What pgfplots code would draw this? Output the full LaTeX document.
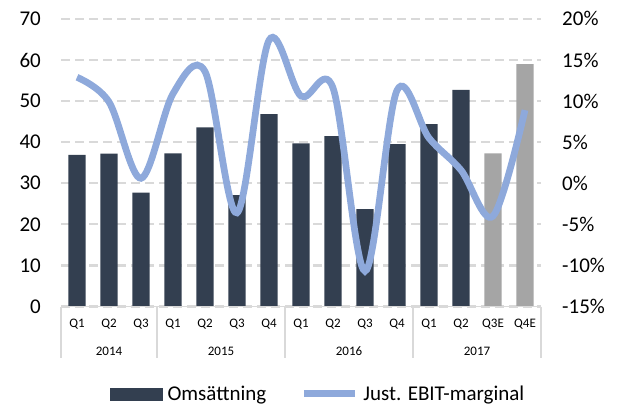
\documentclass[border=0pt]{standalone}
\usepackage{fontspec}
\setmainfont{Carlito}
\usepackage{pgfplots}
\usepackage{pgfplotstable}
\pgfplotsset{compat=1.18}

\definecolor{barDark}{HTML}{333F50}
\definecolor{barGray}{HTML}{A5A5A5}
\definecolor{lineBlue}{HTML}{8EA9DB}
\definecolor{gridGray}{HTML}{D9D9D9}

% Omsättning (MSEK), utfall
\pgfplotstableread{
x oms
0  36.9
1  37.2
2  27.7
3  37.3
4  43.6
5  27.1
6  46.8
7  39.7
8  41.5
9  23.7
10 39.5
11 44.4
12 52.7
}\omsdata
% Omsättning, estimat
\pgfplotstableread{
x oms
13 37.3
14 59.0
}\omsest
% Just. EBIT-marginal (%)
\pgfplotstableread{
x ebit
0  12.9
1  9.9
2  0.6
3  10.9
4  13.6
5  -3.6
6  17.4
7  10.6
8  11.6
9  -10.7
10 11.3
11 5.5
12 1.6
13 -4.0
14 8.9
}\ebitdata

\newcommand{\tickfont}{\fontsize{21}{21}\selectfont}
\newcommand{\catfont}{\fontsize{13}{13}\selectfont}

\begin{document}
\begin{tikzpicture}
\path[use as bounding box] (0,0) rectangle (618pt,405pt);

\begin{axis}[
    at={(61pt,98.5pt)}, anchor=south west,
    scale only axis, width=480pt, height=287.6pt,
    xmin=-0.5, xmax=14.5, ymin=0, ymax=70,
    axis line style={draw=none},
    major tick length=0pt,
    ytick={0,10,20,30,40,50,60,70},
    yticklabels={0,10,20,30,40,50,60,70},
    yticklabel style={font=\tickfont, inner sep=0pt, xshift=-20pt},
    xtick={0,...,14},
    xticklabels={Q1,Q2,Q3,Q1,Q2,Q3,Q4,Q1,Q2,Q3,Q4,Q1,Q2,Q3E,Q4E},
    xticklabel style={font=\catfont, anchor=base, inner sep=0pt, yshift=-21.2pt},
    ymajorgrids,
    major grid style={gridGray, line width=2.25pt, dash pattern=on 9pt off 5pt},
    clip=false,
]
\addplot[ybar, bar width=0.54, bar shift=0pt, fill=barDark, draw=none] table[x=x, y=oms] {\omsdata};
\addplot[ybar, bar width=0.54, bar shift=0pt, fill=barGray, draw=none] table[x=x, y=oms] {\omsest};

% kategoriaxel med två nivåer
\draw[gridGray, line width=1.5pt] (axis cs:-0.5,0) -- (axis cs:14.5,0);
\pgfplotsinvokeforeach{-0.5,2.5,6.5,10.5,14.5}{
  \draw[gridGray, line width=1.5pt] (axis cs:#1,0) -- ++(0pt,-51.5pt);
}
\node[font=\catfont, anchor=base, inner sep=0pt] at ([yshift=-48.5pt]axis cs:1,0) {2014};
\node[font=\catfont, anchor=base, inner sep=0pt] at ([yshift=-48.5pt]axis cs:4.5,0) {2015};
\node[font=\catfont, anchor=base, inner sep=0pt] at ([yshift=-48.5pt]axis cs:8.5,0) {2016};
\node[font=\catfont, anchor=base, inner sep=0pt] at ([yshift=-48.5pt]axis cs:12.5,0) {2017};
\end{axis}

\begin{axis}[
    at={(61pt,98.5pt)}, anchor=south west,
    scale only axis, width=480pt, height=287.6pt,
    xmin=-0.5, xmax=14.5, ymin=-15, ymax=20,
    axis line style={draw=none},
    major tick length=0pt,
    xtick=\empty,
    yticklabel pos=right,
    ytick={-15,-10,-5,0,5,10,15,20},
    yticklabels={-15\%,-10\%,-5\%,0\%,5\%,10\%,15\%,20\%},
    yticklabel style={font=\tickfont, inner sep=0pt, xshift=21pt},
    legend columns=2,
    legend style={at={(rel axis cs:0.102,-0.304)}, anchor=west,
        draw=none, fill=none, inner sep=0pt, font=\tickfont,
        nodes={inner sep=0pt},
        /tikz/every odd column/.append style={column sep=5pt},
        /tikz/every even column/.append style={column sep=34pt}},
]
\addlegendimage{legend image code/.code={\fill[barDark] (0pt,-6pt) rectangle (52pt,6pt);}}
\addlegendentry{Omsättning}
\addplot[lineBlue, line width=6.75pt, smooth, tension=0.55,
    legend image code/.code={\draw[lineBlue, line width=7pt] (0pt,0pt) -- (51pt,0pt);}]
    table[x=x, y=ebit] {\ebitdata};
\addlegendentry{Just. EBIT-marginal}
\end{axis}
\end{tikzpicture}
\end{document}
